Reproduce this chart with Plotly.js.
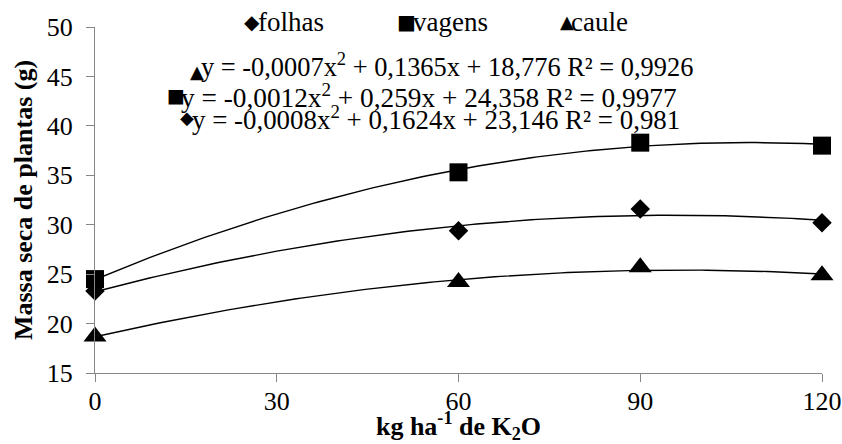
<!DOCTYPE html>
<html>
<head>
<meta charset="utf-8">
<script src="https://cdn.plot.ly/plotly-3.0.1.min.js"></script>
<style>
html,body{margin:0;padding:0;background:#fff;}
#chart{width:842px;height:444px;}
</style>
</head>
<body>
<div id="chart"></div>
<script>
// ---- data ----
const doses = [0, 60, 90, 120];
const folhas = [23.3, 29.4, 31.6, 30.2];
const vagens = [24.5, 35.3, 38.3, 38.0];
const caule = [18.7, 24.2, 25.7, 24.9];
const xTicks = [0, 30, 60, 90, 120];
const yTicks = [15, 20, 25, 30, 35, 40, 45, 50];
const seriesNames = ['folhas', 'vagens', 'caule'];
const eqCaule = 'y = -0,0007x<sup>2</sup> + 0,1365x + 18,776 R² = 0,9926';
const eqVagens = 'y = -0,0012x<sup>2</sup> + 0,259x + 24,358 R² = 0,9977';
const eqFolhas = 'y = -0,0008x<sup>2</sup> + 0,1624x + 23,146 R² = 0,981';

// ---- quadratic least-squares trendline (as the spreadsheet does) ----
function quadFit(xs, ys) {
  let s = [0,0,0,0,0], t = [0,0,0];
  for (let i = 0; i < xs.length; i++) {
    const x = xs[i], y = ys[i];
    for (let k = 0; k < 5; k++) s[k] += Math.pow(x, k);
    for (let k = 0; k < 3; k++) t[k] += y * Math.pow(x, k);
  }
  const A = [[s[0],s[1],s[2],t[0]],[s[1],s[2],s[3],t[1]],[s[2],s[3],s[4],t[2]]];
  for (let i = 0; i < 3; i++) {
    let p = i;
    for (let r = i+1; r < 3; r++) if (Math.abs(A[r][i]) > Math.abs(A[p][i])) p = r;
    [A[i], A[p]] = [A[p], A[i]];
    for (let r = 0; r < 3; r++) {
      if (r === i) continue;
      const f = A[r][i] / A[i][i];
      for (let c = i; c < 4; c++) A[r][c] -= f * A[i][c];
    }
  }
  return [A[0][3]/A[0][0], A[1][3]/A[1][1], A[2][3]/A[2][2]];
}
function trend(ys) {
  const c = quadFit(doses, ys);
  const xs = [], out = [];
  for (let x = 0; x <= 120; x += 1) { xs.push(x); out.push(c[0] + c[1]*x + c[2]*x*x); }
  return {x: xs, y: out};
}

const serif = '"Liberation Serif", "Times New Roman", serif';
const sym = '"DejaVu Sans"';
const lineStyle = {color: '#000', width: 1.4};
const traces = [];
[folhas, vagens, caule].forEach(ys => {
  const t = trend(ys);
  traces.push({x: t.x, y: t.y, xaxis: 'x2', mode: 'lines', line: lineStyle,
    hoverinfo: 'skip', showlegend: false, cliponaxis: false});
});
traces.push({x: doses, y: folhas, name: seriesNames[0], mode: 'markers', cliponaxis: false,
  marker: {symbol: 'diamond', size: 15, color: '#000'}, showlegend: false});
traces.push({x: doses, y: vagens, name: seriesNames[1], mode: 'markers', cliponaxis: false,
  marker: {symbol: 'square', size: 18, color: '#000'}, showlegend: false});
traces.push({x: doses, y: caule, name: seriesNames[2], mode: 'markers', cliponaxis: false,
  marker: {symbol: 'triangle-up', size: 20, color: '#000'}, showlegend: false});

// pixel helpers for annotation placement
const L = 95, R = 822, T = 27, B = 373;
const px = v => (v - L) / (R - L);
const py = v => (B - v) / (B - T);

function txt(text, x, y, size) {
  return {text: text, xref: 'paper', yref: 'paper', x: px(x), y: py(y),
    xanchor: 'left', yanchor: 'middle', showarrow: false,
    font: {family: serif, size: size || 27, color: '#000'}};
}
function mark(ch, x, y, size) {
  return {text: ch, xref: 'paper', yref: 'paper', x: px(x), y: py(y),
    xanchor: 'center', yanchor: 'middle', showarrow: false,
    font: {family: sym, size: size, color: '#000'}};
}

const annotations = [
  mark('◆', 252, 22, 20), txt(seriesNames[0], 256, 22),
  mark('■', 406, 22, 20), txt(seriesNames[1], 411, 22),
  mark('▲', 567, 22, 18), txt(seriesNames[2], 569, 22),
  mark('▲', 197, 72, 18), txt(eqCaule, 199, 65, 26.4),
  mark('■', 176, 95, 19), txt(eqVagens, 179, 96, 27.3),
  mark('◆', 187, 118, 18), txt(eqFolhas, 190, 118, 26.9)
];

const axisColor = '#868686';
const tickFont = {family: serif, size: 26, color: '#000'};
const layout = {
  width: 842, height: 444,
  margin: {l: L, r: 842 - R, t: T, b: 444 - B},
  paper_bgcolor: '#fff', plot_bgcolor: '#fff',
  showlegend: false,
  font: {family: serif, size: 26, color: '#000'},
  xaxis: {
    range: [0, 120], tickvals: xTicks, ticktext: xTicks.map(String),
    showgrid: false, zeroline: false, showline: true, linecolor: axisColor, linewidth: 1,
    ticks: 'outside', ticklen: 5, tickcolor: axisColor, tickwidth: 1,
    tickfont: tickFont,
    title: {text: '<b>kg ha<sup>-1</sup> de K<sub>2</sub>O</b>', font: {family: serif, size: 26, color: '#000'}, standoff: 6}
  },
  xaxis2: {
    overlaying: 'x', matches: 'x', anchor: 'y', side: 'bottom',
    range: [0, 120], tickvals: xTicks, showticklabels: false,
    showgrid: false, zeroline: false, showline: false,
    ticks: 'outside', ticklen: 8, tickcolor: axisColor, tickwidth: 1
  },
  yaxis: {
    range: [15, 50], tickvals: yTicks, ticktext: yTicks.map(String),
    showgrid: false, zeroline: false, showline: true, linecolor: axisColor, linewidth: 1,
    ticks: 'outside', ticklen: 8, tickcolor: axisColor, tickwidth: 1,
    ticklabelstandoff: 8,
    tickfont: tickFont,
    title: {text: '<b>Massa seca de plantas (g)</b>', font: {family: serif, size: 26, color: '#000'}, standoff: 6}
  },
  annotations: annotations
};

Plotly.newPlot('chart', traces, layout, {displayModeBar: false, staticPlot: true});
</script>
</body>
</html>
